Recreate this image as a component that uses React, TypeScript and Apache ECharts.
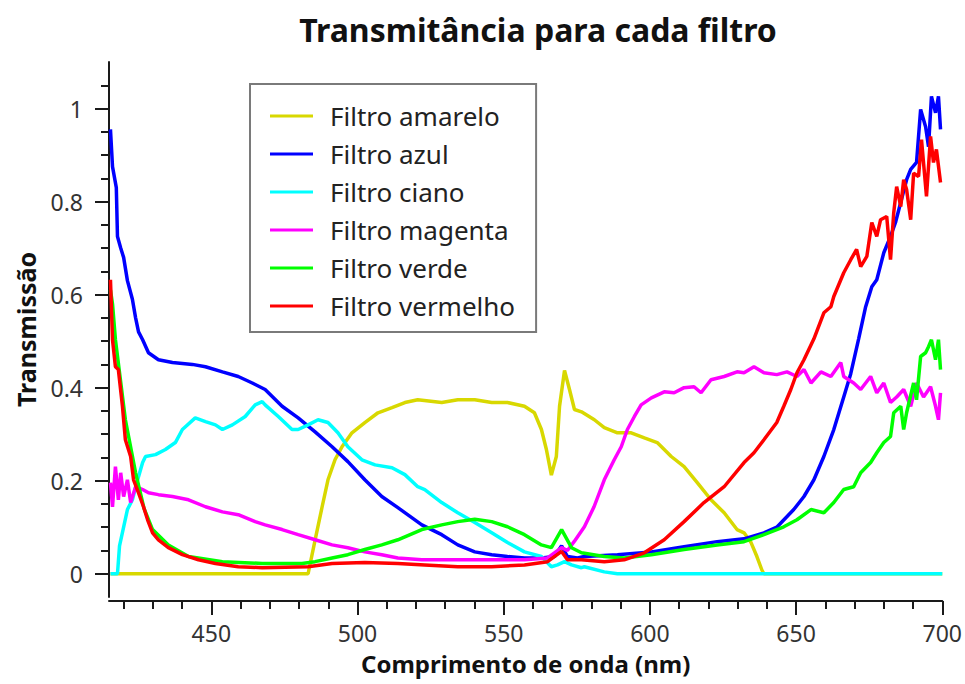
import React, { useEffect, useRef } from "react";
import * as echarts from "echarts";

// wavelength (nm), transmission
const amarelo: number[][] = [
  [415.5, 0], [483.1, 0], [485.5, 0.073], [487.9, 0.144], [489.9, 0.202], [492.3, 0.245], [494.7, 0.273],
  [498.1, 0.303], [502.5, 0.325], [507, 0.346], [511.8, 0.357], [516.2, 0.368], [520.6, 0.374], [528.8, 0.368],
  [534.3, 0.374], [540.1, 0.374], [545.9, 0.368], [551.3, 0.368], [557.1, 0.36], [560.5, 0.346], [562.9, 0.31],
  [564.6, 0.267], [566.3, 0.212], [568, 0.252], [569.1, 0.36], [570.8, 0.437], [572.5, 0.396], [574.2, 0.353],
  [576.6, 0.348], [581, 0.331], [584.4, 0.314], [588.9, 0.303], [593.6, 0.303], [598.1, 0.292], [602.5, 0.282],
  [607.3, 0.252], [611.7, 0.23], [616.2, 0.196], [620.9, 0.159], [625.4, 0.131], [629.8, 0.095], [632.2, 0.088],
  [634.6, 0.067], [636.6, 0.037], [638.3, 0.008], [639, 0], [700, 0],
];

const azul: number[][] = [
  [415.5, 0.955], [416.2, 0.875], [417.5, 0.83], [417.9, 0.725], [419, 0.7], [420, 0.68], [421.3, 0.63],
  [423, 0.59], [424.1, 0.55], [425.1, 0.52], [426.5, 0.503], [428.5, 0.475], [431.9, 0.46], [436.7, 0.454],
  [443.5, 0.45], [448, 0.445], [453.8, 0.434], [459.2, 0.424], [464, 0.41], [468.4, 0.396], [474.2, 0.36],
  [479.7, 0.335], [485.5, 0.305], [491.3, 0.273], [496.7, 0.241], [502.5, 0.202], [508.3, 0.166], [513.8, 0.142],
  [522, 0.105], [528.8, 0.084], [534.3, 0.062], [540.1, 0.047], [545.9, 0.041], [551.3, 0.037], [557.1, 0.034],
  [562.9, 0.034], [567.4, 0.037], [569.8, 0.06], [571.8, 0.037], [575.2, 0.034], [577.6, 0.037], [588.9, 0.041],
  [600.5, 0.047], [611.7, 0.058], [623, 0.069], [632.2, 0.075], [639, 0.088], [643.4, 0.1], [649.2, 0.138],
  [652.7, 0.166], [656.1, 0.202], [659.5, 0.252], [662.9, 0.31], [666.3, 0.38], [668.7, 0.43], [671.4, 0.505],
  [673.8, 0.574], [675.9, 0.617], [677.6, 0.632], [680, 0.69], [682.3, 0.725], [684, 0.755], [687.8, 0.847],
  [689.2, 0.869], [691.2, 0.884], [692.6, 0.998], [694.3, 0.961], [695.3, 0.918], [696.3, 1.026], [697.7, 0.991],
  [698.7, 1.026], [699.4, 0.955],
];

const ciano: number[][] = [
  [415.5, 0], [417.9, 0], [418.6, 0.06], [420, 0.1], [421.3, 0.138], [423, 0.159], [424.8, 0.202],
  [426.5, 0.239], [427.5, 0.252], [430.9, 0.256], [434.3, 0.267], [437.7, 0.282], [440.1, 0.31], [444.5, 0.335],
  [448, 0.327], [451.4, 0.32], [453.8, 0.31], [457.2, 0.32], [461.6, 0.338], [465, 0.363], [467.4, 0.37],
  [468.4, 0.363], [472.9, 0.338], [477.6, 0.31], [479.7, 0.31], [483.1, 0.32], [486.5, 0.331], [489.9, 0.325],
  [493.3, 0.303], [496.7, 0.273], [501.5, 0.245], [506, 0.234], [511.8, 0.228], [516.2, 0.213], [520.6, 0.187],
  [523, 0.181], [528.8, 0.153], [534.3, 0.131], [540.1, 0.11], [545.9, 0.088], [551.3, 0.067], [557.1, 0.047],
  [562.9, 0.037], [566.3, 0.015], [568.4, 0.019], [570.8, 0.026], [573.2, 0.019], [576.6, 0.013], [577.6, 0.015],
  [584.4, 0.004], [588.9, 0], [700, 0],
];

const magenta: number[][] = [
  [415.5, 0.196], [416.2, 0.144], [417.2, 0.23], [418.2, 0.159], [419, 0.217], [420, 0.166], [421.3, 0.202],
  [422.4, 0.153], [424.1, 0.187], [426.5, 0.181], [428.5, 0.174], [431.9, 0.17], [436.7, 0.166], [442.2, 0.159],
  [448, 0.144], [453.8, 0.133], [459.2, 0.127], [465, 0.112], [468.4, 0.105], [474.2, 0.095], [479.7, 0.084],
  [485.5, 0.073], [491.3, 0.062], [496.7, 0.056], [502.5, 0.047], [508.3, 0.041], [513.8, 0.034], [522, 0.03],
  [534.3, 0.03], [545.9, 0.03], [557.1, 0.03], [565, 0.034], [569.8, 0.056], [571.8, 0.05], [574.2, 0.07],
  [577.6, 0.101], [580.9, 0.144], [584.4, 0.202], [587.8, 0.245], [590.2, 0.273], [592.3, 0.31], [594.7, 0.338],
  [597, 0.363], [600.5, 0.378], [604.9, 0.391], [608.3, 0.389], [611.7, 0.4], [615.1, 0.402], [617.5, 0.389],
  [620.9, 0.417], [625.4, 0.424], [629.8, 0.434], [632.2, 0.432], [635.6, 0.445], [639, 0.432], [643.4, 0.428],
  [646.9, 0.434], [650.3, 0.424], [652.7, 0.439], [655.1, 0.41], [658.5, 0.434], [661.9, 0.424], [665.3, 0.454],
  [666.3, 0.424], [669.7, 0.41], [672.1, 0.396], [675.5, 0.424], [677.6, 0.389], [680, 0.41], [682.3, 0.368],
  [684.4, 0.38], [686.8, 0.396], [689.2, 0.36], [691.2, 0.41], [693.6, 0.38], [696, 0.402], [697.7, 0.36],
  [698.7, 0.331], [699.4, 0.389],
];

const verde: number[][] = [
  [415.5, 0.61], [416.2, 0.58], [417.2, 0.503], [420.6, 0.331], [424.1, 0.217], [427, 0.14], [429.9, 0.095],
  [435.3, 0.062], [442.2, 0.037], [453.8, 0.026], [467.4, 0.022], [481, 0.022], [485.5, 0.026], [491.3, 0.034],
  [496.7, 0.041], [502.5, 0.052], [508.3, 0.062], [513.8, 0.073], [522, 0.095], [528.8, 0.105], [534.3, 0.112],
  [540.1, 0.117], [545.9, 0.112], [551.3, 0.101], [557.1, 0.084], [562.9, 0.062], [566.3, 0.056], [569.8, 0.095],
  [573.2, 0.056], [576.6, 0.045], [584.4, 0.037], [591.2, 0.034], [600.5, 0.041], [611.7, 0.052], [623, 0.062],
  [632.2, 0.069], [639, 0.084], [645.8, 0.101], [650.3, 0.116], [655.1, 0.138], [659.5, 0.131], [662.9, 0.153],
  [666.3, 0.181], [669.7, 0.187], [672.1, 0.217], [675.5, 0.239], [677.6, 0.26], [680, 0.282], [682.3, 0.295],
  [683.4, 0.346], [685.8, 0.36], [686.8, 0.31], [687.8, 0.346], [690.2, 0.41], [691.2, 0.374], [692.6, 0.467],
  [694.3, 0.475], [695.3, 0.488], [696.3, 0.503], [697.7, 0.46], [698.7, 0.503], [699.4, 0.439],
];

const vermelho: number[][] = [
  [415.5, 0.632], [416.2, 0.503], [417.2, 0.445], [418.2, 0.439], [419.6, 0.36], [420.6, 0.288], [422.4, 0.252],
  [423.4, 0.202], [425.1, 0.174], [426.8, 0.144], [428.2, 0.116], [429.9, 0.088], [431.9, 0.073], [435.3, 0.056],
  [440.1, 0.041], [445.6, 0.03], [451.4, 0.022], [459.2, 0.015], [467.4, 0.013], [483.1, 0.015], [491.3, 0.022],
  [502.5, 0.024], [513.8, 0.022], [523, 0.019], [534.3, 0.015], [545.9, 0.015], [557.1, 0.019], [565, 0.026],
  [569.8, 0.048], [571.8, 0.03], [576.6, 0.03], [584.4, 0.026], [591.2, 0.03], [598.1, 0.045], [604.9, 0.073],
  [611.7, 0.112], [618.5, 0.153], [625.4, 0.187], [632.2, 0.239], [635.6, 0.26], [639, 0.288], [643.4, 0.325],
  [645.8, 0.36], [648.2, 0.396], [650.3, 0.432], [652.7, 0.46], [656.1, 0.505], [659.5, 0.561], [661.9, 0.574],
  [662.9, 0.596], [665.3, 0.632], [666.3, 0.647], [668.7, 0.675], [670.7, 0.697], [672.1, 0.66], [674.2, 0.682],
  [675.9, 0.755], [677.6, 0.725], [678.9, 0.761], [681, 0.768], [682.3, 0.675], [683.4, 0.776], [684.4, 0.832],
  [685.8, 0.789], [686.8, 0.847], [687.8, 0.826], [689.2, 0.761], [690.2, 0.861], [691.9, 0.854], [692.9, 0.933],
  [694.6, 0.811], [696, 0.94], [697, 0.884], [698, 0.912], [699.4, 0.841],
];

const seriesNames = ["Filtro amarelo", "Filtro azul", "Filtro ciano", "Filtro magenta", "Filtro verde", "Filtro vermelho"];
const seriesColors = ["#d8d800", "#0000ff", "#00ffff", "#ff00ff", "#00ff00", "#ff0000"];
const seriesData = [amarelo, azul, ciano, magenta, verde, vermelho];

const xMajorTicks = [450, 500, 550, 600, 650, 700];
const xMinorTicks = [420, 430, 440, 460, 470, 480, 490, 510, 520, 530, 540, 560, 570, 580, 590, 610, 620, 630, 640, 660, 670, 680, 690];
const yMajorTicks = [0, 0.2, 0.4, 0.6, 0.8, 1];
const yMinorTicks = [0.05, 0.1, 0.15, 0.25, 0.3, 0.35, 0.45, 0.5, 0.55, 0.65, 0.7, 0.75, 0.85, 0.9, 0.95, 1.05];

const FONT = "'Noto Sans', 'Open Sans', sans-serif";
const X_MIN = 415;
const X_MAX = 700;
const Y_MIN = -0.05;
const Y_MAX = 1.1;

export default function App() {
  const ref = useRef<HTMLDivElement>(null);
  useEffect(() => {
    if (!ref.current) return;
    const chart = echarts.init(ref.current, undefined, { renderer: "svg" });
    const tickStyle = { color: "#1a1a1a", width: 2 };
    chart.setOption({
      animation: false,
      backgroundColor: "#ffffff",
      title: {
        text: "Transmitância para cada filtro",
        left: 533,
        top: 8,
        textAlign: "center",
        textStyle: { fontFamily: FONT, fontWeight: "bold", fontSize: 32, color: "#111" },
      },
      legend: {
        data: seriesNames,
        orient: "vertical",
        left: 250,
        top: 84,
        padding: [19, 21, 13, 20],
        itemGap: 12,
        itemWidth: 43,
        itemHeight: 3,
        icon: "rect",
        borderColor: "#7a7a7a",
        borderWidth: 2,
        backgroundColor: "#ffffff",
        textStyle: { fontFamily: FONT, fontSize: 26, color: "#222", lineHeight: 24, padding: [0, 0, 0, 12] },
      },
      grid: { left: 109, right: 21.5, top: 62, bottom: 87, containLabel: false },
      xAxis: [
        {
          type: "value",
          min: X_MIN,
          max: X_MAX,
          offset: 4,
          position: "bottom",
          name: "Comprimento de onda (nm)",
          nameLocation: "middle",
          nameGap: 50,
          nameTextStyle: { fontFamily: FONT, fontWeight: "bold", fontSize: 24, color: "#111" },
          axisLine: { show: true, onZero: false, lineStyle: tickStyle },
          splitLine: { show: false },
          axisTick: { show: true, length: 14, lineStyle: tickStyle, customValues: xMajorTicks },
          axisLabel: { show: true, customValues: xMajorTicks, margin: 20, fontFamily: FONT, fontSize: 23, color: "#333" },
        },
        {
          type: "value",
          min: X_MIN,
          max: X_MAX,
          offset: 4,
          position: "bottom",
          axisLine: { show: false, onZero: false },
          splitLine: { show: false },
          axisTick: { show: true, length: 8, lineStyle: tickStyle, customValues: xMinorTicks },
          axisLabel: { show: false },
        },
      ],
      yAxis: [
        {
          type: "value",
          min: Y_MIN,
          max: Y_MAX,
          position: "left",
          name: "Transmissão",
          nameLocation: "middle",
          nameGap: 71,
          nameTextStyle: { fontFamily: FONT, fontWeight: "bold", fontSize: 25, color: "#111" },
          axisLine: { show: true, onZero: false, lineStyle: tickStyle },
          splitLine: { show: false },
          axisTick: { show: true, length: 14, lineStyle: tickStyle, customValues: yMajorTicks },
          axisLabel: {
            show: true,
            customValues: yMajorTicks,
            margin: 26,
            fontFamily: FONT,
            fontSize: 23,
            color: "#333",
            formatter: (v: number) => String(Math.round(v * 10) / 10),
          },
        },
        {
          type: "value",
          min: Y_MIN,
          max: Y_MAX,
          position: "left",
          axisLine: { show: false, onZero: false },
          splitLine: { show: false },
          axisTick: { show: true, length: 8, lineStyle: tickStyle, customValues: yMinorTicks },
          axisLabel: { show: false },
        },
      ],
      series: seriesNames.map((name, i) => ({
        name,
        type: "line",
        data: seriesData[i],
        xAxisIndex: 0,
        yAxisIndex: 0,
        symbol: "none",
        showSymbol: false,
        color: seriesColors[i],
        lineStyle: { width: 3.5, color: seriesColors[i] },
      })),
    });
    return () => chart.dispose();
  }, []);
  return <div ref={ref} style={{ width: 965, height: 684, position: "absolute", left: 0, top: 0 }} />;
}
